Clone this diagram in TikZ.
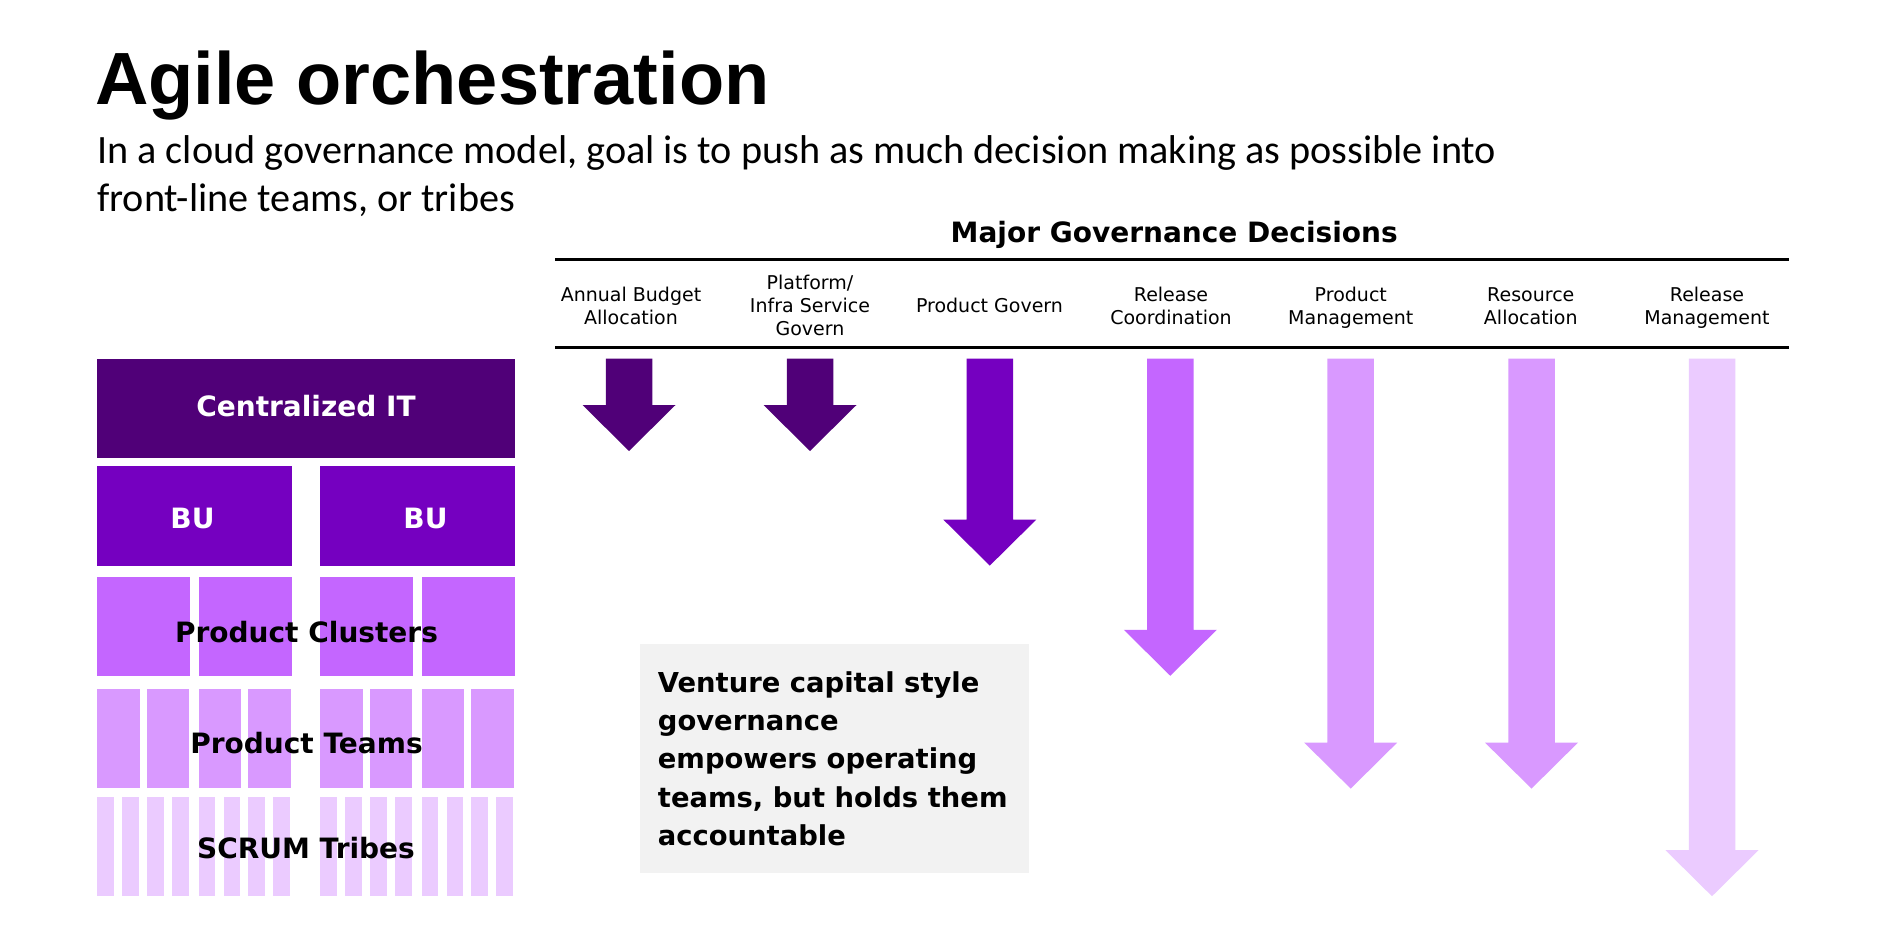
\documentclass[tikz,border=0pt]{standalone}
\usepackage{fontspec}
\setmainfont{DejaVu Sans}
\newfontfamily\headfont{Liberation Sans}
\newfontfamily\leadfont{Carlito}

\definecolor{tierA}{HTML}{500078}
\definecolor{tierB}{HTML}{7500C0}
\definecolor{tierC}{HTML}{C466FF}
\definecolor{tierD}{HTML}{D999FF}
\definecolor{tierE}{HTML}{EBCBFF}
\definecolor{notegray}{HTML}{F2F2F2}

% downward block arrow: centre x, tip y, colour
\newcommand{\govarrow}[3]{%
  \fill[#3] ({#1-23.25},358.5) -- ({#1+23.25},358.5) -- ({#1+23.25},{#2-46})
    -- ({#1+46.5},{#2-46}) -- (#1,#2) -- ({#1-46.5},{#2-46})
    -- ({#1-23.25},{#2-46}) -- cycle;}

\begin{document}
\begin{tikzpicture}[x=1pt,y=-1pt,
  collabel/.style={align=center,inner sep=0pt,font=\fontsize{19}{23}\selectfont},
  stacklabel/.style={anchor=base,inner sep=0pt,font=\bfseries\fontsize{28}{34}\selectfont},
  rulestyle/.style={line width=3pt}]
\useasboundingbox (0,0) rectangle (1899,934);
\fill[white] (0,0) rectangle (1899,934);

% heading
\node[anchor=base west,inner sep=0pt,font=\headfont\bfseries\fontsize{74}{80}\selectfont]
  (title) at (95,104) {Agile orchestration};
\node[anchor=west,align=left,inner sep=0pt,font=\leadfont\fontsize{40.2}{47.7}\selectfont]
  (lead) at (97,178.3)
  {\strut In a cloud governance model, goal is to push as much decision making as possible into\\
   \strut front-line teams, or tribes};

% organisation stack
\fill[tierA] (97,358.5) rectangle (515,457.8);
\fill[tierB] (97,466.3) rectangle (292,565.6);
\fill[tierB] (320,466.3) rectangle (515,565.6);
\foreach \a/\b in {97/190,199/292,320/413,422/515}
  \fill[tierC] (\a,576.5) rectangle (\b,675.8);
\foreach \a/\b in {97/140,147/189,199/241,248/291,320/363,370/412,422/464,471/514}
  \fill[tierD] (\a,689.1) rectangle (\b,788.4);
\foreach \a/\b in {97/114,122/139,147/164,172/189,199/215,224/240,248/265,273/290,
                   320/337,345/362,370/387,395/412,422/438,447/463,471/488,496/513}
  \fill[tierE] (\a,796.9) rectangle (\b,896.2);

\node[stacklabel,text=white] (cit) at (306,416.5) {Centralized IT};
\node[stacklabel,text=white] (bu1) at (192.5,528.5) {BU};
\node[stacklabel,text=white] (bu2) at (425.5,528.5) {BU};
\node[stacklabel] (clusters) at (306.5,642.3) {Product Clusters};
\node[stacklabel] (teams) at (306.5,753) {Product Teams};
\node[stacklabel] (tribes) at (306,858) {SCRUM Tribes};

% decision header
\node[anchor=base,inner sep=0pt,font=\bfseries\fontsize{28}{34}\selectfont]
  (decisions) at (1174.2,242.7) {Major Governance Decisions};
\coordinate (ruleAw) at (555,259);
\coordinate (ruleAe) at (1789,259);
\coordinate (ruleBw) at (555,347.6);
\coordinate (ruleBe) at (1789,347.6);
\draw[rulestyle] (ruleAw) -- (ruleAe);
\draw[rulestyle] (ruleBw) -- (ruleBe);

\node[collabel] (c1) at (631,308.1) {\strut Annual Budget\\\strut Allocation};
\node[collabel] (c2) at (810,308.1) {\strut Platform/\\\strut Infra Service\\\strut Govern};
\node[collabel] (c3) at (989.5,308.1) {\strut Product Govern};
\node[collabel] (c4) at (1171,308.1) {\strut Release\\\strut Coordination};
\node[collabel] (c5) at (1350.8,308.1) {\strut Product\\\strut Management};
\node[collabel] (c6) at (1530.8,308.1) {\strut Resource\\\strut Allocation};
\node[collabel] (c7) at (1707,308.1) {\strut Release\\\strut Management};

% decision arrows
\govarrow{629}{451}{tierA}
\govarrow{810}{451}{tierA}
\govarrow{989.8}{565.6}{tierB}
\govarrow{1170.3}{675.8}{tierC}
\govarrow{1350.7}{788.6}{tierD}
\govarrow{1531.5}{788.6}{tierD}
\govarrow{1712}{896.2}{tierE}

% call-out
\node[fill=notegray,minimum width=389,minimum height=229,anchor=north west,inner sep=0pt]
  (note) at (640,644) {};
\node[anchor=west,align=left,inner sep=0pt,font=\bfseries\fontsize{27.4}{38.4}\selectfont]
  (notetext) at (657.7,761.3)
  {\strut Venture capital style\\\strut governance\\\strut empowers operating\\
   \strut teams, but holds them\\\strut accountable};
\end{tikzpicture}
\end{document}
